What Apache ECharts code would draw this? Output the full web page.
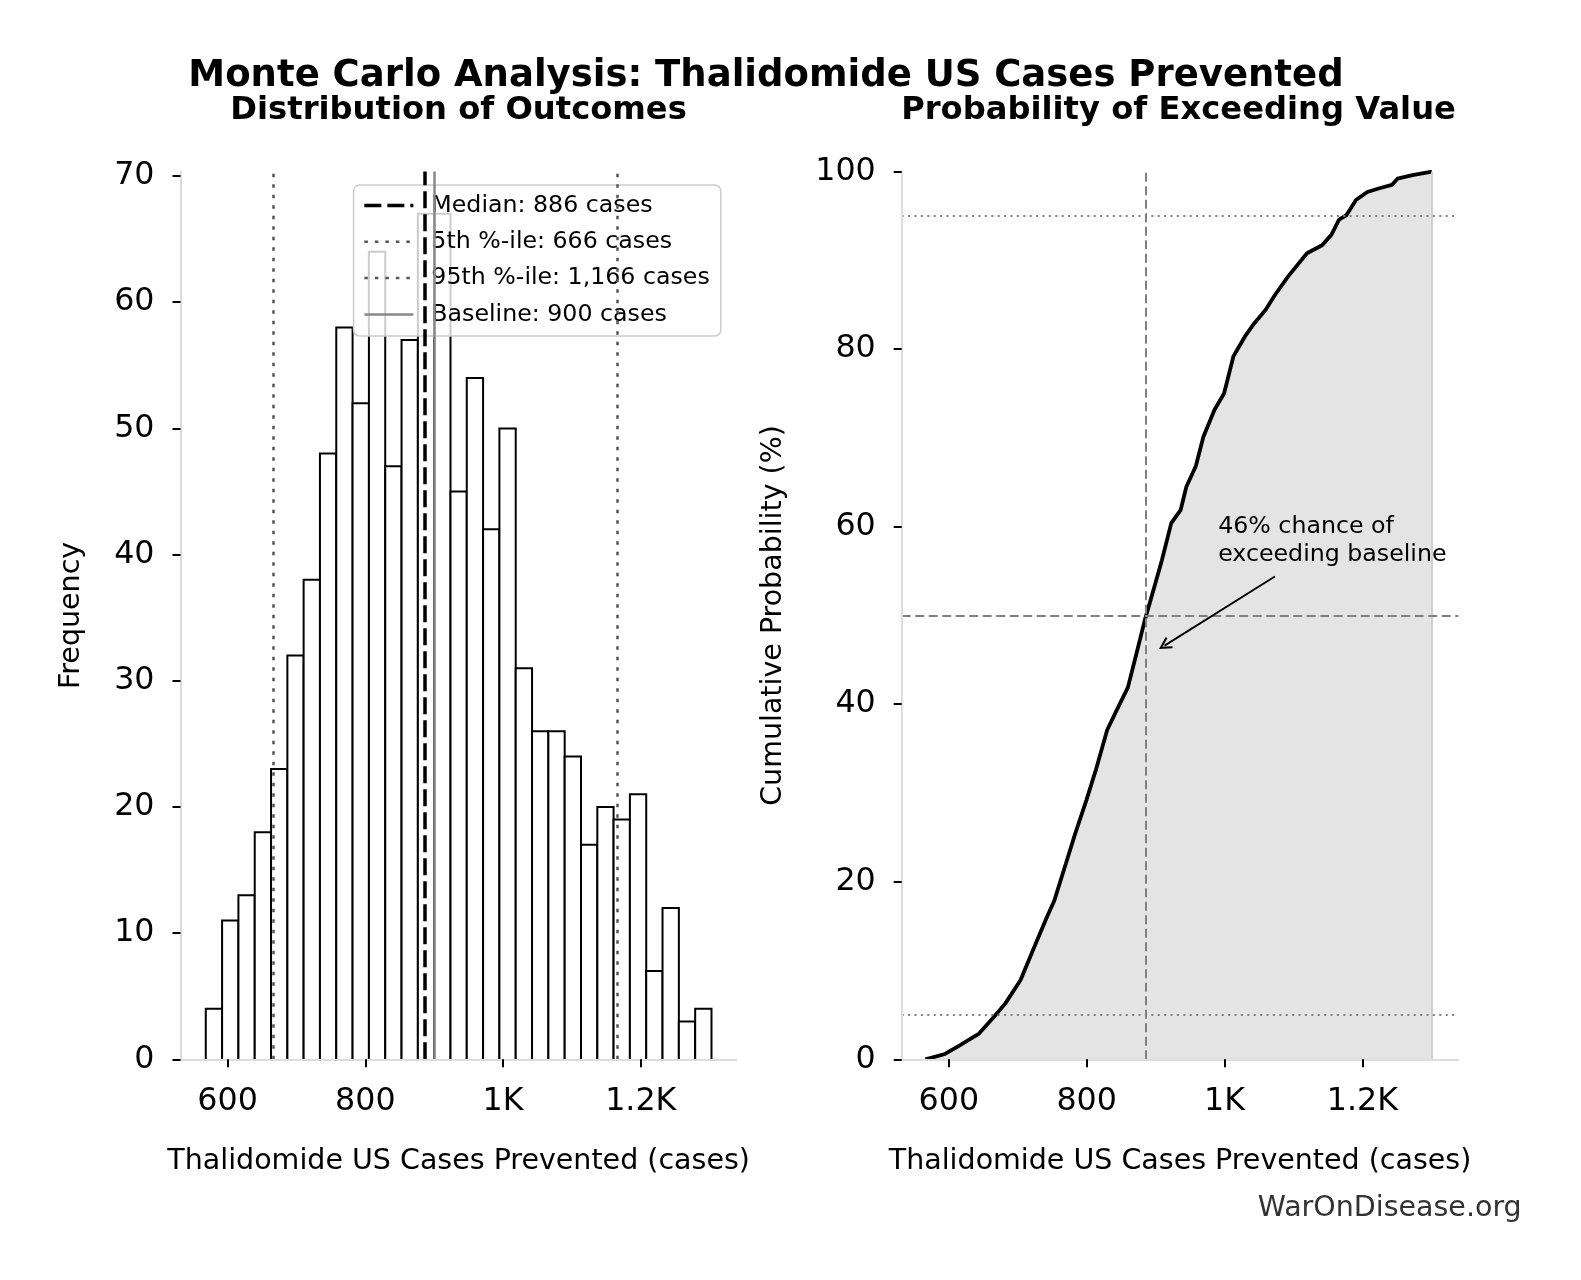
<!DOCTYPE html>
<html><head><meta charset="utf-8">
<script src="https://cdn.jsdelivr.net/npm/echarts@6/dist/echarts.min.js"></script>
<style>html,body{margin:0;padding:0;background:#fff}#c{width:1581px;height:1280px}</style>
</head><body><div id="c"></div>
<script>
// ---------------- DATA ----------------
const binEdges = [568.3, 592.0, 615.7, 639.4, 663.1, 686.8, 710.4, 734.1, 757.8, 781.5, 805.2, 828.9, 852.6, 876.3, 900.0, 923.7, 947.3, 971.0, 994.7, 1018.4, 1042.1, 1065.8, 1089.5, 1113.2, 1136.9, 1160.5, 1184.2, 1207.9, 1231.6, 1255.3, 1279.0, 1302.7];
const binCounts = [4, 11, 13, 18, 23, 32, 38, 48, 58, 52, 64, 47, 57, 67, 67, 45, 54, 42, 50, 31, 26, 26, 24, 17, 20, 19, 21, 7, 12, 3, 4];
const cdfX = [566, 594.5, 616.4, 643.8, 665.6, 682, 703.9, 725.8, 742.2, 753.1, 769.6, 783.2, 799.6, 813.3, 829.7, 843.4, 859.8, 873.5, 884.4, 892.6, 909, 922.7, 936.4, 944.6, 958.3, 969.2, 985.6, 999.3, 1012.9, 1029.4, 1043, 1059.4, 1073.1, 1092.3, 1119.6, 1141.5, 1155.2, 1166.1, 1177, 1190.7, 1207.1, 1223.5, 1242.7, 1250.9, 1272.7, 1301];
const cdfY = [0, 0.6, 1.6, 2.9, 4.8, 6.3, 8.9, 13.0, 16.0, 17.9, 22.0, 25.4, 29.2, 32.6, 37.1, 39.3, 41.9, 46.1, 49.5, 51.7, 56.2, 60.4, 61.9, 64.5, 66.8, 70.1, 73.2, 75.0, 79.2, 81.4, 82.9, 84.4, 86.1, 88.2, 90.8, 91.7, 92.9, 94.6, 95.1, 96.8, 97.7, 98.1, 98.5, 99.2, 99.6, 100];
const medianValue = 886;
const p5Value = 666;
const p95Value = 1166;
const baselineValue = 900;
const probLevels = [5, 50, 95];
const annotationLines = ['46% chance of', 'exceeding baseline'];
const annotationFrom = [1073, 54.4];
const annotationTo = [913, 46.6];
const annotationTextAt = [991.5, 61.5];
const xTickValues = [600, 800, 1000, 1200];
const xTickLabels = ['600', '800', '1K', '1.2K'];
const yTicksLeft = [0, 10, 20, 30, 40, 50, 60, 70];
const yTicksRight = [0, 20, 40, 60, 80, 100];

// ---------------- CHART ----------------
const FONT = 'DejaVu Sans';
const fmt = v => v.toLocaleString('en-US');
const nameMedian = 'Median: ' + fmt(medianValue) + ' cases';
const name5 = '5th %-ile: ' + fmt(p5Value) + ' cases';
const name95 = '95th %-ile: ' + fmt(p95Value) + ' cases';
const nameBase = 'Baseline: ' + fmt(baselineValue) + ' cases';

const X_MIN = 531.6, X_MAX = 1339.3;
const GRID_TOP = 171.6, GRID_H = 887.7;

function xAxisFor(gi) {
  return {
    type: 'value', gridIndex: gi, min: X_MIN, max: X_MAX, z: 10,
    name: 'Thalidomide US Cases Prevented (cases)', nameLocation: 'middle', nameGap: 88,
    nameTextStyle: {fontFamily: FONT, fontSize: 28.5, color: '#000'},
    axisLine: {show: true, onZero: false, lineStyle: {color: '#dddddd', width: 2}},
    axisTick: {show: true, length: 8, inside: false, customValues: xTickValues, lineStyle: {color: '#000', width: 2}},
    axisLabel: {show: true, customValues: xTickValues, margin: 26, fontFamily: FONT, fontSize: 31.7, color: '#000',
      formatter: v => { const i = xTickValues.indexOf(v); return i >= 0 ? xTickLabels[i] : ''; }},
    splitLine: {show: false}
  };
}
function yAxisFor(gi, max, ticks, name, gap) {
  return {
    type: 'value', gridIndex: gi, min: 0, max: max, z: 10,
    name: name, nameLocation: 'middle', nameGap: gap, nameRotate: 90,
    nameTextStyle: {fontFamily: FONT, fontSize: 28.5, color: '#000'},
    axisLine: {show: true, onZero: false, lineStyle: {color: '#dddddd', width: 2}},
    axisTick: {show: true, length: 8, inside: false, customValues: ticks, lineStyle: {color: '#000', width: 2}},
    axisLabel: {show: true, customValues: ticks, margin: 26, fontFamily: FONT, fontSize: 31.7, color: '#000'},
    splitLine: {show: false}
  };
}

const medStyle = {color: '#000', width: 3.5, type: [17, 6]};
const pctStyle = {color: '#555', width: 2.5, type: [3.5, 7]};
const baseStyle = {color: '#888', width: 2.5, type: 'solid'};

function vLine(name, value, style) {
  return {
    type: 'line', name: name, xAxisIndex: 0, yAxisIndex: 0, data: [], symbol: 'none',
    color: style.color, itemStyle: {color: style.color}, lineStyle: style, z: 3,
    markLine: {silent: true, symbol: 'none', label: {show: false}, lineStyle: style,
      emphasis: {disabled: true}, data: [{xAxis: value}]}
  };
}
function legendItem(name, style) {
  return {name: name, itemStyle: {opacity: 0},
    lineStyle: {color: style.color, width: style.width, type: style.type, opacity: 1}};
}

const dashedGray = {color: '#808080', width: 2, type: [9, 4.5]};
const dottedGray = {color: '#808080', width: 2, type: [2, 4.4]};
const arrowPath = 'path://M5,0 L10,9 L8.7,10 L5,3.3 L1.3,10 L0,9 Z';

const option = {
  animation: false,
  backgroundColor: '#fff',
  textStyle: {fontFamily: FONT},
  title: [
    {text: 'Monte Carlo Analysis: Thalidomide US Cases Prevented', left: 766, top: 58, textAlign: 'center', padding: 0,
      textStyle: {fontFamily: FONT, fontSize: 37, fontWeight: 'bold', color: '#000'}},
    {text: 'Distribution of Outcomes', left: 458.6, top: 95, textAlign: 'center', padding: 0,
      textStyle: {fontFamily: FONT, fontSize: 32.2, fontWeight: 'bold', color: '#000'}},
    {text: 'Probability of Exceeding Value', left: 1178.5, top: 95, textAlign: 'center', padding: 0,
      textStyle: {fontFamily: FONT, fontSize: 32.2, fontWeight: 'bold', color: '#000'}}
  ],
  grid: [
    {left: 180.5, top: GRID_TOP, width: 556.2, height: GRID_H, containLabel: false},
    {left: 901.7, top: GRID_TOP, width: 556.7, height: GRID_H, containLabel: false}
  ],
  xAxis: [xAxisFor(0), xAxisFor(1)],
  yAxis: [
    yAxisFor(0, Math.max(...binCounts) * 1.05, yTicksLeft, 'Frequency', 94),
    yAxisFor(1, 100, yTicksRight, 'Cumulative Probability (%)', 114)
  ],
  legend: {
    data: [legendItem(nameMedian, medStyle), legendItem(name5, pctStyle), legendItem(name95, pctStyle), legendItem(nameBase, baseStyle)],
    orient: 'vertical', left: 353.6, top: 185,
    padding: [8.5, 11, 9.5, 9], itemWidth: 49, itemHeight: 14, itemGap: 12.3,
    backgroundColor: 'rgba(255,255,255,0.8)', borderColor: '#cccccc', borderWidth: 1.5, borderRadius: 6,
    textStyle: {fontFamily: FONT, fontSize: 23.7, color: '#000', padding: [0, 0, 0, 13]},
    selectedMode: false
  },
  graphic: [
    {type: 'text', right: 59.3, top: 1194, style: {text: 'WarOnDisease.org', font: '28.5px "DejaVu Sans"', fill: '#333'}}
  ],
  series: [
    {
      type: 'custom', name: 'hist', xAxisIndex: 0, yAxisIndex: 0, z: 2, silent: true,
      data: binCounts.map((c, i) => [binEdges[i], binEdges[i + 1], c]),
      encode: {x: [0, 1], y: 2},
      renderItem: (params, api) => {
        const p0 = api.coord([api.value(0), 0]);
        const p1 = api.coord([api.value(1), api.value(2)]);
        return {type: 'group', children: [
          {type: 'rect', shape: {x: p0[0], y: p1[1], width: p1[0] - p0[0], height: p0[1] - p1[1]}, style: {fill: '#fff'}},
          {type: 'polyline', shape: {points: [[p0[0], p0[1]], [p0[0], p1[1]], [p1[0], p1[1]], [p1[0], p0[1]]]},
            style: {stroke: '#000', lineWidth: 2, fill: null}}
        ]};
      }
    },
    vLine(nameMedian, medianValue, medStyle),
    vLine(name5, p5Value, pctStyle),
    vLine(name95, p95Value, pctStyle),
    vLine(nameBase, baselineValue, baseStyle),
    {
      type: 'line', name: 'cdfArea', xAxisIndex: 1, yAxisIndex: 1, z: 1, silent: true,
      data: cdfX.map((x, i) => [x, cdfY[i]]), symbol: 'none', showSymbol: false,
      lineStyle: {width: 0}, areaStyle: {color: '#e4e4e4', opacity: 1},
      markLine: {silent: true, symbol: 'none', label: {show: false}, lineStyle: {color: '#cfcfcf', width: 2, type: 'solid'},
        data: [[{coord: [cdfX[cdfX.length - 1], 0]}, {coord: [cdfX[cdfX.length - 1], cdfY[cdfY.length - 1]]}]]}
    },
    {
      type: 'line', name: 'refLines', xAxisIndex: 1, yAxisIndex: 1, z: 2, data: [], symbol: 'none', silent: true,
      markLine: {silent: true, symbol: 'none', label: {show: false},
        data: [
          {xAxis: medianValue, lineStyle: dashedGray},
          {yAxis: probLevels[1], lineStyle: dashedGray},
          {yAxis: probLevels[0], lineStyle: dottedGray},
          {yAxis: probLevels[2], lineStyle: dottedGray}
        ]}
    },
    {
      type: 'line', name: 'cdf', xAxisIndex: 1, yAxisIndex: 1, z: 3, silent: true,
      data: cdfX.map((x, i) => [x, cdfY[i]]), symbol: 'none', showSymbol: false,
      lineStyle: {color: '#000', width: 3.8}
    },
    {
      type: 'line', name: 'annot', xAxisIndex: 1, yAxisIndex: 1, z: 4, data: [], symbol: 'none', silent: true,
      markLine: {silent: true, symbol: ['none', arrowPath], symbolSize: 13, label: {show: false},
        lineStyle: {color: '#000', width: 1.8, type: 'solid'},
        data: [[{coord: annotationFrom}, {coord: annotationTo}]]},
      markPoint: {silent: true, symbol: 'rect', symbolSize: 1, itemStyle: {color: 'rgba(0,0,0,0)'},
        label: {show: true, position: [0, 0], align: 'left', verticalAlign: 'top',
          formatter: annotationLines.join('\n'), fontFamily: FONT, fontSize: 23.7, lineHeight: 28.3, color: '#000'},
        data: [{coord: annotationTextAt}]}
    }
  ]
};

const chart = echarts.init(document.getElementById('c'), null, {renderer: 'canvas'});
chart.setOption(option);
</script>
</body></html>
